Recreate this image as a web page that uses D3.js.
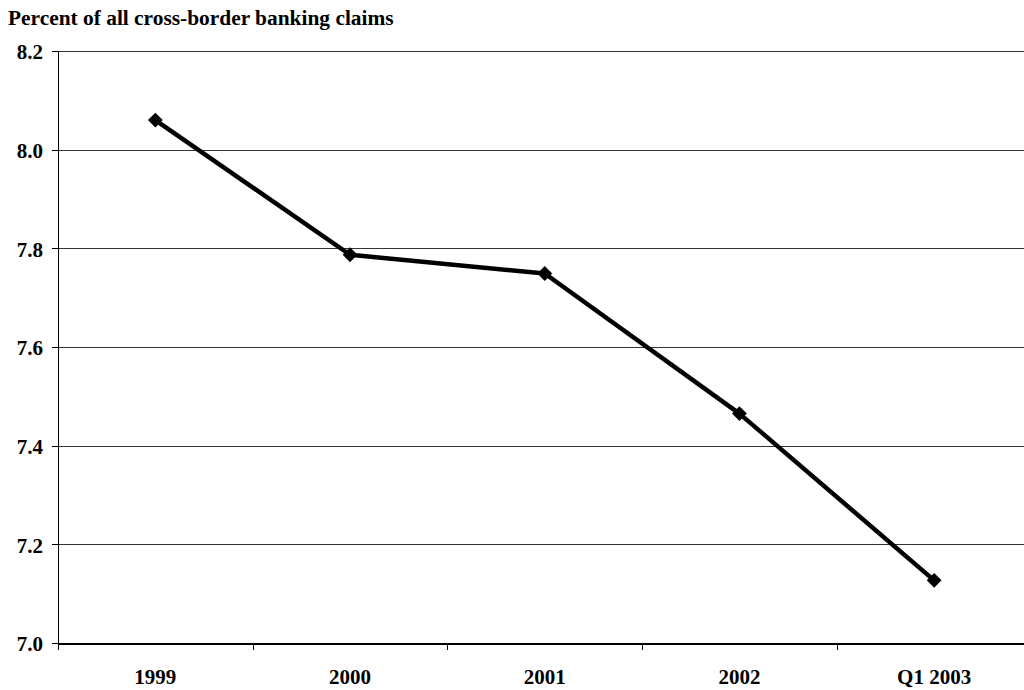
<!DOCTYPE html>
<html>
<head>
<meta charset="utf-8">
<script src="https://cdn.jsdelivr.net/npm/d3@7"></script>
<style>
  body { margin: 0; background: #fff; }
  text { font-family: "Liberation Serif", "Times New Roman", serif; font-weight: bold; fill: #000; }
  .grid line { stroke: #333; stroke-width: 1; shape-rendering: crispEdges; }
  .axis path, .axis line { stroke: #000; shape-rendering: crispEdges; }
</style>
</head>
<body>
<div id="chart"></div>
<script>
const categories = ['1999', '2000', '2001', '2002', 'Q1 2003'];
const values = [8.06, 7.787, 7.749, 7.465, 7.127];
const yTicks = [7.0, 7.2, 7.4, 7.6, 7.8, 8.0, 8.2];
const title = 'Percent of all cross-border banking claims';

const width = 1024,
      height = 690,
      margin = {top: 51, right: -7.5, bottom: 47, left: 58};

const svg = d3.select('#chart').append('svg')
    .attr('width', width)
    .attr('height', height);

const x = d3.scaleBand()
    .domain(categories)
    .range([margin.left, width - margin.right])
    .padding(0);

const y = d3.scaleLinear()
    .domain([7.0, 8.2])
    .range([height - margin.bottom, margin.top]);

// gridlines
svg.append('g')
    .attr('class', 'grid')
    .selectAll('line')
    .data(yTicks.slice(1))
    .enter().append('line')
    .attr('x1', margin.left)
    .attr('x2', width - margin.right)
    .attr('y1', d => Math.round(y(d)) + 0.5)
    .attr('y2', d => Math.round(y(d)) + 0.5);

// y axis
const yAxis = d3.axisLeft(y)
    .tickValues(yTicks)
    .tickFormat(d3.format('.1f'))
    .tickSize(6)
    .tickPadding(9);

const gy = svg.append('g')
    .attr('class', 'axis axis--y')
    .attr('transform', `translate(${margin.left},0)`)
    .call(yAxis);
gy.select('.domain').attr('stroke-width', 1.5);
gy.selectAll('text').style('font-size', '21px').attr('dy', '0.38em');

// x axis: ticks at category boundaries
const xAxis = d3.axisBottom(x).tickSize(0).tickPadding(26);
const gx = svg.append('g')
    .attr('class', 'axis axis--x')
    .attr('transform', `translate(0,${y(7.0)})`)
    .call(xAxis);
gx.select('.domain').attr('stroke-width', 2);
gx.selectAll('text').style('font-size', '21px');

gx.selectAll('.boundary')
    .data(categories)
    .enter().append('line')
    .attr('class', 'boundary')
    .attr('x1', d => Math.round(x(d)) + 0.5)
    .attr('x2', d => Math.round(x(d)) + 0.5)
    .attr('y1', 0)
    .attr('y2', 7)
    .attr('stroke', '#333');

// series line
const line = d3.line()
    .x((d, i) => x(categories[i]) + x.bandwidth() / 2)
    .y(d => y(d));

svg.append('path')
    .datum(values)
    .attr('fill', 'none')
    .attr('stroke', '#000')
    .attr('stroke-width', 4.5)
    .attr('stroke-linejoin', 'round')
    .attr('d', line);

// diamond markers
svg.append('g')
    .selectAll('.marker')
    .data(values)
    .enter().append('path')
    .attr('class', 'marker')
    .attr('d', d3.symbol().type(d3.symbolSquare).size(110))
    .attr('transform', (d, i) => `translate(${x(categories[i]) + x.bandwidth() / 2},${y(d)}) rotate(45)`)
    .attr('fill', '#000');

// title
svg.append('text')
    .attr('x', 8)
    .attr('y', 25)
    .style('font-size', '21.4px')
    .text(title);
</script>
</body>
</html>
